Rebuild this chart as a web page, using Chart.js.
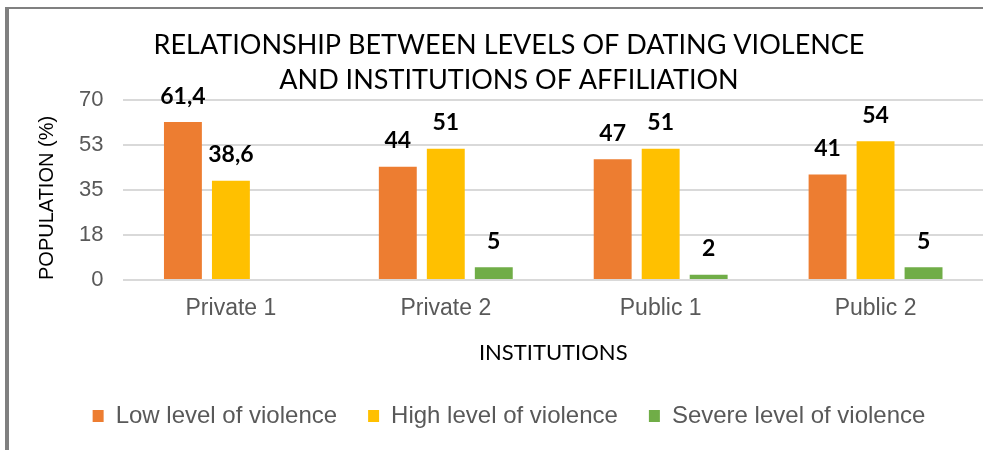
<!DOCTYPE html>
<html>
<head>
<meta charset="utf-8">
<script src="https://cdn.jsdelivr.net/npm/chart.js@4"></script>
<style>
  html, body { margin: 0; padding: 0; background: #fff; overflow: hidden; }
  #frame {
    position: absolute; left: 5px; top: 7px;
    border-left: 4px solid #808080; border-top: 2px solid #808080;
    width: 1006px; height: 441px;
  }
  #chart { display: block; }
</style>
</head>
<body>
<div id="frame"><canvas id="chart" width="1006" height="441"></canvas></div>
<script>
// Datos del gráfico
const institutions = ["Private 1", "Private 2", "Public 1", "Public 2"];
const lowLevel = [61.4, 44, 47, 41];
const highLevel = [38.6, 51, 51, 54];
const severeLevel = [null, 5, 2, 5];
const yTicks = [0, 17.5, 35, 52.5, 70];

// Etiquetas de valores encima de las barras
const valueLabels = {
  id: "valueLabels",
  afterDatasetsDraw(chart) {
    const ctx = chart.ctx;
    ctx.save();
    ctx.font = "bold 23px Lato";
    ctx.fillStyle = "#000";
    ctx.textAlign = "center";
    ctx.textBaseline = "middle";
    chart.data.datasets.forEach((ds, i) => {
      chart.getDatasetMeta(i).data.forEach((bar, j) => {
        const v = ds.data[j];
        if (v === null) return;
        ctx.fillText(String(v).replace(".", ","), bar.x, bar.y - 26);
      });
    });
    ctx.restore();
  },
};

const ctx = document.getElementById("chart").getContext("2d");
new Chart(ctx, {
  type: "bar",
  data: {
    labels: institutions,
    datasets: [
      { label: "Low level of violence", data: lowLevel, backgroundColor: "#ED7D31" },
      { label: "High level of violence", data: highLevel, backgroundColor: "#FFC000" },
      { label: "Severe level of violence", data: severeLevel, backgroundColor: "#70AD47" },
    ],
  },
  options: {
    responsive: false,
    animation: false,
    layout: { padding: { left: 26, right: 32, top: 0, bottom: 12 } },
    datasets: { bar: { categoryPercentage: 0.67, barPercentage: 0.79 } },
    scales: {
      x: {
        grid: { display: false, drawTicks: false },
        border: { display: false },
        ticks: { padding: 15, color: "#595959", font: { family: "Liberation Sans", size: 23 } },
        title: {
          display: true,
          text: "INSTITUTIONS",
          color: "#000",
          font: { family: "Lato", size: 22 },
          padding: { top: 2, bottom: 7 },
        },
      },
      y: {
        min: 0,
        max: 70,
        afterBuildTicks: (axis) => { axis.ticks = yTicks.map((v) => ({ value: v })); },
        grid: { color: "#d9d9d9", lineWidth: 2, drawTicks: false },
        border: { display: false },
        ticks: {
          padding: 20,
          color: "#595959",
          font: { family: "Liberation Sans", size: 22 },
          callback: (v) => Math.round(v),
        },
        title: {
          display: true,
          text: "POPULATION (%)",
          align: "start",
          color: "#000",
          font: { family: "Liberation Sans", size: 20 },
          padding: { top: 0, bottom: 0 },
        },
      },
    },
    plugins: {
      title: {
        display: true,
        text: ["RELATIONSHIP BETWEEN LEVELS OF DATING VIOLENCE", "AND INSTITUTIONS OF AFFILIATION"],
        color: "#000",
        font: { family: "Lato", size: 27, weight: "normal", lineHeight: 1.32 },
        padding: { top: 18, bottom: 1.7 },
      },
      legend: {
        position: "bottom",
        labels: {
          boxWidth: 11,
          boxHeight: 12,
          padding: 31,
          color: "#595959",
          font: { family: "Liberation Sans", size: 24 },
        },
      },
      tooltip: { enabled: false },
    },
  },
  plugins: [valueLabels],
});
</script>
</body>
</html>
